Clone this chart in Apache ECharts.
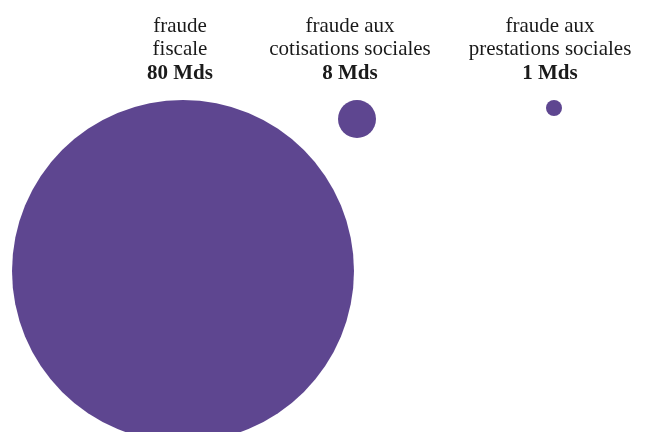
<!DOCTYPE html>
<html>
<head>
<meta charset="utf-8">
<script src="https://cdn.jsdelivr.net/npm/echarts@6/dist/echarts.min.js"></script>
<style>
  html, body { margin: 0; padding: 0; background: #fff; }
  #main { width: 652px; height: 432px; }
</style>
</head>
<body>
<div id="main"></div>
<script>
// données : montants de fraude en milliards d'euros
var categories = ['fraude\nfiscale', 'fraude aux\ncotisations sociales', 'fraude aux\nprestations sociales'];
var montants = [80, 8, 1];
var unite = 'Mds';

// mise en page (pixels)
var centresLabel = [180, 350, 550];
var decalages = [3, 7, 4];
var diametres = { 80: 342, 8: 38, 1: 16 };
var couleur = '#5e4690';

var myChart = echarts.init(document.getElementById('main'));

var grids = [], xAxes = [], yAxes = [], series = [];
categories.forEach(function (cat, i) {
    grids.push({ left: centresLabel[i] - 50, width: 100, top: 100, height: 1 });
    xAxes.push({
        type: 'category', gridIndex: i, position: 'top', data: [cat],
        axisLine: { show: false }, axisTick: { show: false },
        axisLabel: {
            margin: 15,
            interval: 0,
            formatter: function (v) {
                return '{n|' + v + '}\n{v|' + montants[i] + ' ' + unite + '}';
            },
            rich: {
                n: { fontFamily: 'Liberation Serif', fontSize: 21, lineHeight: 23.5, color: '#1a1a1a', align: 'center' },
                v: { fontFamily: 'Liberation Serif', fontSize: 21, lineHeight: 23.5, fontWeight: 'bold', color: '#1a1a1a', align: 'center' }
            }
        }
    });
    yAxes.push({ type: 'value', gridIndex: i, min: 0, max: 1, show: false });
    series.push({
        type: 'scatter', xAxisIndex: i, yAxisIndex: i,
        data: [[cat, 1, montants[i]]],
        symbolSize: function (v) { return diametres[v[2]]; },
        symbolOffset: [decalages[i], '50%'],
        itemStyle: { color: couleur, opacity: 1 },
        silent: true
    });
});

var option = {
    backgroundColor: '#ffffff',
    animation: false,
    grid: grids,
    xAxis: xAxes,
    yAxis: yAxes,
    series: series
};

myChart.setOption(option);
</script>
</body>
</html>
